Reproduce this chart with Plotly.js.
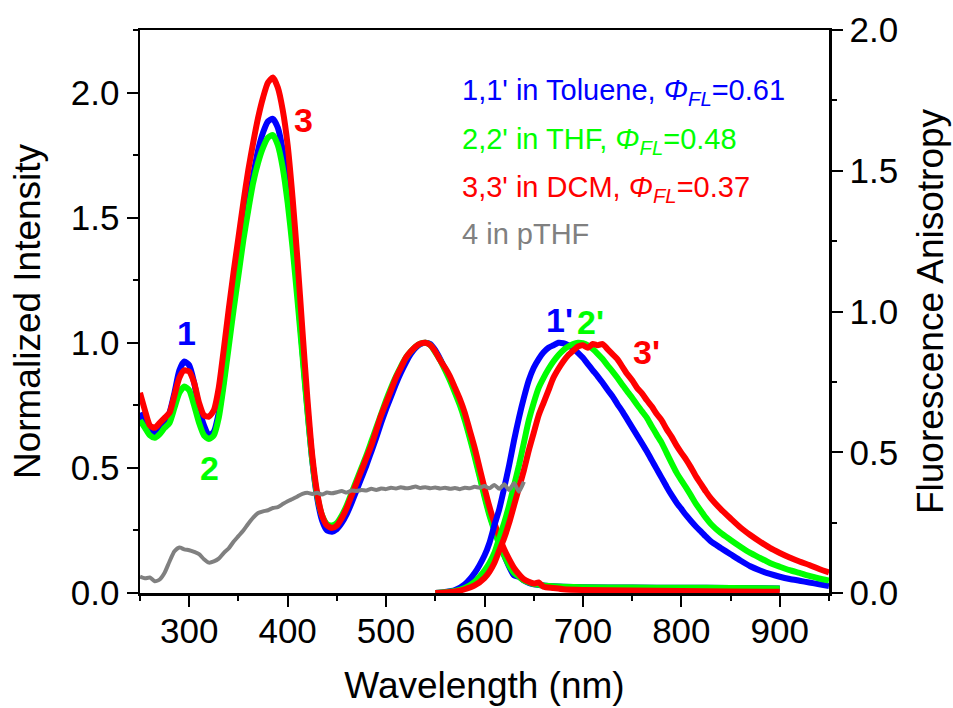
<!DOCTYPE html>
<html><head><meta charset="utf-8">
<script src="https://cdn.plot.ly/plotly-3.0.1.min.js"></script>
<style>html,body{margin:0;padding:0;background:#fff}#chart{width:953px;height:708px}</style>
</head><body><div id="chart"></div>
<script>
// ---- Data ----
const wlAbs = [250,255,260,265,270,275,280,285,290,295,300,305,310,315,320,325,330,335,340,345,350,355,360,365,370,375,380,385,390,395,400,405,410,415,420,425,430,435,440,445,450,455,460,465,470,475,480,485,490,495,500,505,510,515,520,525,530,535,540,545,550,555,560,565,570,575,580,585,590,595,600,605,610,615,620,625,630,635,640,645,650,655,660,670,680,700,750,800,850,900];
const abs1 = [0.72,0.68,0.645,0.64,0.655,0.68,0.72,0.80,0.89,0.925,0.91,0.84,0.74,0.67,0.63,0.645,0.72,0.85,1.01,1.16,1.30,1.44,1.56,1.67,1.77,1.84,1.885,1.895,1.86,1.77,1.63,1.44,1.21,0.97,0.74,0.53,0.38,0.29,0.25,0.245,0.255,0.28,0.315,0.36,0.41,0.46,0.51,0.565,0.62,0.68,0.735,0.785,0.835,0.88,0.92,0.955,0.98,0.995,1.0,0.995,0.97,0.935,0.895,0.855,0.81,0.76,0.70,0.63,0.555,0.475,0.395,0.32,0.255,0.2,0.15,0.105,0.07,0.065,0.05,0.04,0.035,0.032,0.03,0.027,0.025,0.023,0.022,0.021,0.02,0.018];
const abs2 = [0.69,0.66,0.63,0.62,0.635,0.66,0.68,0.74,0.80,0.825,0.81,0.75,0.68,0.63,0.615,0.63,0.70,0.83,0.98,1.13,1.27,1.41,1.53,1.64,1.72,1.78,1.82,1.83,1.79,1.70,1.56,1.38,1.17,0.95,0.73,0.53,0.39,0.31,0.275,0.27,0.28,0.31,0.35,0.40,0.45,0.50,0.55,0.605,0.66,0.715,0.77,0.82,0.865,0.905,0.94,0.965,0.985,0.997,1.0,0.99,0.962,0.93,0.89,0.848,0.80,0.75,0.69,0.62,0.545,0.465,0.385,0.31,0.25,0.195,0.15,0.11,0.08,0.065,0.05,0.042,0.036,0.033,0.03,0.027,0.025,0.023,0.022,0.021,0.02,0.018];
const abs3 = [0.80,0.73,0.67,0.66,0.68,0.70,0.72,0.79,0.86,0.89,0.885,0.84,0.76,0.71,0.705,0.73,0.82,0.97,1.13,1.28,1.42,1.56,1.69,1.80,1.90,1.98,2.04,2.06,2.02,1.93,1.79,1.58,1.33,1.05,0.78,0.55,0.40,0.31,0.27,0.26,0.27,0.30,0.34,0.39,0.44,0.49,0.54,0.59,0.65,0.71,0.76,0.81,0.86,0.90,0.94,0.965,0.985,0.997,1.0,0.99,0.965,0.93,0.90,0.865,0.82,0.775,0.72,0.65,0.58,0.50,0.42,0.345,0.28,0.225,0.175,0.135,0.10,0.075,0.055,0.045,0.038,0.042,0.025,0.02,0.015,0.012,0.01,0.008,0.006,0.005];

const wlEm = [550,560,570,580,590,600,605,610,615,620,625,630,635,640,645,650,655,660,665,670,675,680,685,690,695,700,705,710,715,720,725,730,735,740,745,750,755,760,765,770,775,780,785,790,795,800,805,810,815,820,825,830,840,850,860,870,880,890,900,910,920,930,940,950];
const em1 = [0.0,0.004,0.012,0.035,0.08,0.15,0.2,0.27,0.335,0.42,0.51,0.61,0.70,0.78,0.85,0.90,0.935,0.962,0.98,0.99,1.0,0.998,0.99,0.978,0.96,0.94,0.915,0.89,0.866,0.84,0.812,0.786,0.755,0.726,0.694,0.662,0.63,0.598,0.565,0.53,0.495,0.46,0.425,0.392,0.362,0.336,0.31,0.287,0.265,0.245,0.225,0.206,0.18,0.155,0.13,0.107,0.09,0.076,0.065,0.056,0.049,0.042,0.035,0.028];
const em2 = [0.0,0.003,0.008,0.02,0.045,0.09,0.12,0.16,0.22,0.28,0.35,0.43,0.51,0.60,0.69,0.76,0.82,0.86,0.895,0.925,0.95,0.97,0.985,0.995,1.0,0.998,0.99,0.975,0.956,0.935,0.91,0.886,0.86,0.832,0.806,0.78,0.752,0.726,0.70,0.665,0.632,0.60,0.56,0.52,0.482,0.45,0.42,0.388,0.355,0.328,0.3,0.276,0.24,0.212,0.185,0.16,0.14,0.12,0.105,0.091,0.08,0.068,0.058,0.05];
const em3 = [0.0,0.002,0.006,0.015,0.03,0.06,0.085,0.12,0.17,0.22,0.28,0.35,0.42,0.49,0.57,0.64,0.71,0.76,0.81,0.86,0.895,0.925,0.95,0.968,0.985,0.99,0.98,0.995,0.99,0.995,0.975,0.955,0.935,0.905,0.875,0.85,0.82,0.798,0.77,0.745,0.715,0.69,0.655,0.625,0.59,0.56,0.532,0.50,0.465,0.435,0.405,0.378,0.335,0.298,0.262,0.232,0.205,0.18,0.16,0.142,0.126,0.112,0.096,0.082];

const wlAniso = [250,255,260,265,270,275,280,285,290,295,300,305,310,315,320,325,330,335,340,345,350,355,360,365,370,375,380,385,390,395,400,405,410,415,420,425,430,435,440,445,450,455,460,465,470,475,480,485,490,495,500,505,510,515,520,525,530,535,540,545,550,555,560,565,570,575,580,585,590,595,600,605,610,615,620,625,630,635,640];
const aniso4 = [0.058,0.052,0.055,0.042,0.048,0.072,0.112,0.148,0.162,0.155,0.152,0.146,0.138,0.12,0.108,0.112,0.122,0.142,0.158,0.182,0.202,0.222,0.246,0.268,0.284,0.29,0.294,0.302,0.305,0.316,0.326,0.334,0.343,0.352,0.356,0.352,0.356,0.35,0.357,0.354,0.358,0.362,0.357,0.364,0.362,0.366,0.364,0.37,0.366,0.371,0.369,0.374,0.371,0.376,0.372,0.374,0.378,0.373,0.376,0.372,0.375,0.371,0.374,0.37,0.373,0.369,0.374,0.372,0.377,0.374,0.38,0.372,0.384,0.37,0.386,0.366,0.39,0.36,0.395];

const legendLines = [
  "1,1' in Toluene, <i>Φ</i><sub><i>FL</i></sub>=0.61",
  "2,2' in THF, <i>Φ</i><sub><i>FL</i></sub>=0.48",
  "3,3' in DCM, <i>Φ</i><sub><i>FL</i></sub>=0.37",
  "4 in pTHF"
];
const peakLabels = ["1","2","3","1'","2'","3'"];

// ---- Styles ----
const BLUE = '#0000FF', GREEN = '#00FF00', RED = '#FF0000', GREY = '#808080';
const FONT = 'Liberation Sans, Arial, sans-serif';

function line(x, y, color, w, axis) {
  return {x: x, y: y, type: 'scatter', mode: 'lines', yaxis: axis || 'y',
          line: {color: color, width: w, shape: 'spline', smoothing: 0.6},
          hoverinfo: 'skip', showlegend: false};
}

const traces = [
  line(wlAbs, abs1, BLUE, 6),
  line(wlAbs, abs2, GREEN, 6),
  line(wlAbs, abs3, RED, 6),
  line(wlEm, em1, BLUE, 6),
  line(wlEm, em2, GREEN, 6),
  line(wlEm, em3, RED, 6),
  line(wlAniso, aniso4, GREY, 4, 'y2')
];

const legendColors = [BLUE, GREEN, RED, GREY];
const legendY = [0.89, 0.803, 0.718, 0.638];
const annotations = legendLines.map((t, i) => ({
  xref: 'paper', yref: 'paper', x: 0.464, y: legendY[i], xanchor: 'left', yanchor: 'middle',
  text: t, showarrow: false, font: {family: FONT, size: 29, color: legendColors[i]}
}));
const labelPos = [[297, 1.04], [321, 0.5], [416, 1.89], [676, 1.09], [708, 1.085], [765, 0.965]];
const labelColors = [BLUE, GREEN, RED, BLUE, GREEN, RED];
peakLabels.forEach((t, i) => annotations.push({
  xref: 'x', yref: 'y', x: labelPos[i][0], y: labelPos[i][1], xanchor: 'center', yanchor: 'middle',
  text: '<b>' + t + '</b>', showarrow: false, font: {family: FONT, size: 34, color: labelColors[i]}
}));

const axisCommon = {
  showgrid: false, zeroline: false, showline: true, linecolor: '#000', linewidth: 2.5,
  ticks: 'outside', ticklen: 11, tickwidth: 2, tickcolor: '#000',
  tickfont: {family: FONT, size: 35, color: '#000'}
};

const layout = {
  width: 953, height: 708,
  margin: {l: 140, r: 124, t: 30, b: 115, pad: 0},
  paper_bgcolor: '#fff', plot_bgcolor: '#fff',
  font: {family: FONT, color: '#000'},
  xaxis: Object.assign({}, axisCommon, {
    range: [250, 950], tick0: 0, dtick: 100, mirror: true, ticklabelstandoff: -6,
    minor: {dtick: 50, ticks: 'outside', ticklen: 5, tickwidth: 2, tickcolor: '#000', showgrid: false},
    title: {text: 'Wavelength (nm)', font: {family: FONT, size: 37, color: '#000'}, standoff: 24}
  }),
  yaxis: Object.assign({}, axisCommon, {
    range: [0, 2.25], tick0: 0, dtick: 0.5, tickformat: '.1f',
    minor: {dtick: 0.25, ticks: 'outside', ticklen: 5, tickwidth: 2, tickcolor: '#000', showgrid: false},
    title: {text: 'Normalized Intensity', font: {family: FONT, size: 37, color: '#000'}, standoff: 19}
  }),
  yaxis2: Object.assign({}, axisCommon, {
    overlaying: 'y', side: 'right', range: [0, 2.0], tick0: 0, dtick: 0.5, tickformat: '.1f',
    minor: {dtick: 0.25, ticks: 'outside', ticklen: 5, tickwidth: 2, tickcolor: '#000', showgrid: false},
    title: {text: 'Fluorescence Anisotropy', font: {family: FONT, size: 37, color: '#000'}, standoff: 20}
  }),
  annotations: annotations
};

Plotly.newPlot('chart', traces, layout, {displayModeBar: false, staticPlot: true});
</script></body></html>
